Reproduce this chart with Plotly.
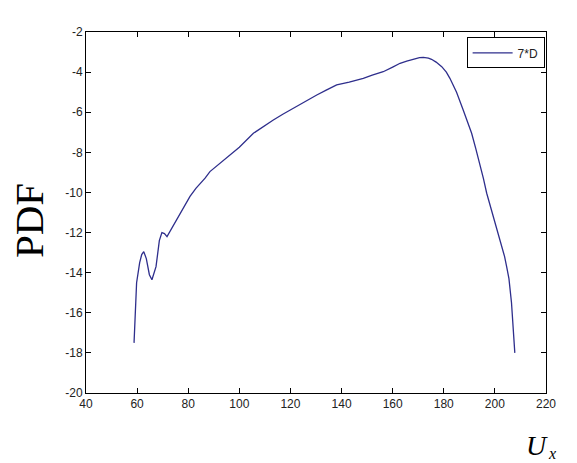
import plotly.graph_objects as go

ux = [58.8, 59.8, 61.0, 61.8, 62.6, 63.6, 64.8, 65.8, 67.4, 68.7, 69.7, 70.7, 71.7, 73.5,
      76.0, 78.5, 80.7, 83.0, 86.6, 88.5, 92.0, 96.3, 100.0, 105.5, 110.0, 113.3, 117.0,
      121.1, 125.0, 130.3, 134.0, 138.1, 143.0, 148.5, 152.0, 156.3, 160.0, 162.9, 165.5,
      168.0, 170.5, 172.0, 174.0, 175.2, 177.0, 179.2, 181.0, 182.4, 185.0, 187.6, 189.0,
      190.9, 192.5, 194.1, 195.5, 196.8, 198.5, 200.7, 202.5, 203.8, 204.6, 205.5, 206.5,
      207.2, 207.8]
pdf = [-17.5, -14.5, -13.5, -13.1, -12.95, -13.3, -14.1, -14.35, -13.7, -12.4, -12.0, -12.05, -12.2, -11.8,
       -11.3, -10.7, -10.2, -9.8, -9.29, -8.96, -8.6, -8.13, -7.75, -7.05, -6.65, -6.39, -6.1,
       -5.80, -5.5, -5.14, -4.9, -4.64, -4.5, -4.31, -4.15, -3.98, -3.75, -3.56, -3.45,
       -3.35, -3.28, -3.27, -3.3, -3.36, -3.5, -3.73, -4.0, -4.31, -5.0, -5.89, -6.4,
       -7.05, -7.8, -8.55, -9.3, -10.04, -10.8, -11.7, -12.6, -13.2, -13.7, -14.3, -15.5,
       -16.7, -18.0]

x_ticks = [40, 60, 80, 100, 120, 140, 160, 180, 200, 220]
y_ticks = [-20, -18, -16, -14, -12, -10, -8, -6, -4, -2]
x_labels = ["40", "60", "80", "100", "120", "140", "160", "180", "200", "220"]
y_labels = ["-20", "-18", "-16", "-14", "-12", "-10", "-8", "-6", "-4", "-2"]

fig = go.Figure()
fig.add_trace(go.Scatter(x=ux, y=pdf, mode="lines", name="7*D",
                         line=dict(color="#2e2e8c", width=1.3)))

axis_common = dict(showline=True, linecolor="black", linewidth=1, mirror="allticks",
                   ticks="inside", ticklen=5, tickcolor="black", showgrid=False,
                   zeroline=False,
                   tickfont=dict(family="Liberation Sans, Arial", size=12, color="#222"))

serif = "Liberation Serif, Times New Roman"
fig.update_layout(
    width=577, height=463,
    margin=dict(l=86, r=31, t=32, b=70),
    paper_bgcolor="white", plot_bgcolor="white",
    xaxis=dict(range=[40, 220], tickvals=x_ticks, ticktext=x_labels, **axis_common),
    yaxis=dict(range=[-20, -2], tickvals=y_ticks, ticktext=y_labels, **axis_common),
    showlegend=True,
    legend=dict(x=0.997, y=0.985, xanchor="right", yanchor="top",
                bgcolor="white", bordercolor="black", borderwidth=1,
                font=dict(family="Liberation Sans, Arial", size=12, color="#222"),
                itemwidth=40),
    annotations=[
        dict(text="PDF", xref="paper", yref="paper", x=-0.124, y=0.479, xanchor="center",
             yanchor="middle", textangle=-90, showarrow=False,
             font=dict(family=serif, size=41, color="black")),
        dict(text="<i>U</i>", xref="paper", yref="paper", x=0.953, y=-0.097,
             xanchor="left", yanchor="top", showarrow=False,
             font=dict(family=serif, size=28, color="black")),
        dict(text="<i>x</i>", xref="paper", yref="paper", x=1.0, y=-0.138,
             xanchor="left", yanchor="top", showarrow=False,
             font=dict(family=serif, size=16, color="black")),
    ],
)

fig.write_html("out.html", post_script="document.body.style.margin='0';",
               config={"displayModeBar": False})
